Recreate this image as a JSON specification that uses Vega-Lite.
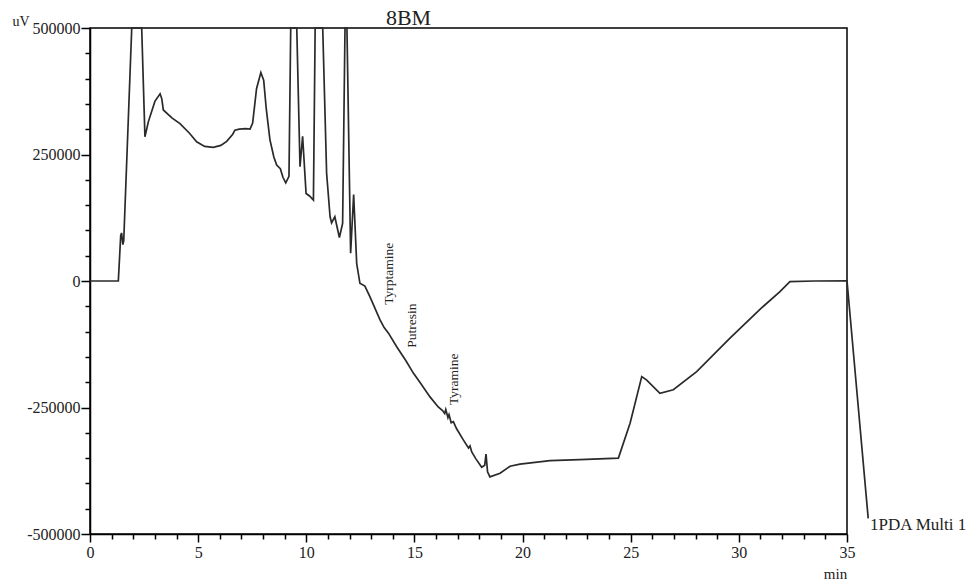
{
  "$schema": "https://vega.github.io/schema/vega-lite/v6.json",
  "width": 757,
  "height": 506,
  "autosize": {"type": "none"},
  "padding": {"left": 90, "top": 28, "right": 129, "bottom": 51},
  "background": "white",
  "config": {
    "view": {"stroke": "black", "strokeWidth": 1.5},
    "font": "Liberation Serif"
  },
  "title": {
    "text": "8BM",
    "anchor": "middle",
    "dx": -60,
    "dy": 38,
    "offset": 5,
    "baseline": "alphabetic",
    "font": "Liberation Serif",
    "fontSize": 22,
    "fontWeight": "normal",
    "color": "#222222"
  },
  "datasets": {
    "signal": [
      {"t": 0, "v": 0},
      {"t": 1.31, "v": 0},
      {"t": 1.42, "v": 90000},
      {"t": 1.46, "v": 95000},
      {"t": 1.52, "v": 72000},
      {"t": 1.56, "v": 80000},
      {"t": 1.93, "v": 500000},
      {"t": 2.39, "v": 500000},
      {"t": 2.54, "v": 285000},
      {"t": 2.7, "v": 315000},
      {"t": 3.0, "v": 355000},
      {"t": 3.24, "v": 370000},
      {"t": 3.32, "v": 360000},
      {"t": 3.39, "v": 338000},
      {"t": 3.8, "v": 322000},
      {"t": 4.16, "v": 311000},
      {"t": 4.6, "v": 292000},
      {"t": 4.93, "v": 275000},
      {"t": 5.3, "v": 266000},
      {"t": 5.7, "v": 264000},
      {"t": 6.05, "v": 268000},
      {"t": 6.32, "v": 276000},
      {"t": 6.6, "v": 290000},
      {"t": 6.7, "v": 298000},
      {"t": 6.9, "v": 300000},
      {"t": 7.2, "v": 301000},
      {"t": 7.4, "v": 300000},
      {"t": 7.52, "v": 312000},
      {"t": 7.7, "v": 380000},
      {"t": 7.9, "v": 412000},
      {"t": 8.03, "v": 397000},
      {"t": 8.15, "v": 340000},
      {"t": 8.32, "v": 279000},
      {"t": 8.5, "v": 245000},
      {"t": 8.63, "v": 229000},
      {"t": 8.8, "v": 222000},
      {"t": 8.92, "v": 205000},
      {"t": 9.05, "v": 194000},
      {"t": 9.2, "v": 207000},
      {"t": 9.28, "v": 500000},
      {"t": 9.56, "v": 500000},
      {"t": 9.71, "v": 226000},
      {"t": 9.83, "v": 286000},
      {"t": 9.99, "v": 173000},
      {"t": 10.15, "v": 168000},
      {"t": 10.33, "v": 160000},
      {"t": 10.41, "v": 500000},
      {"t": 10.76, "v": 500000},
      {"t": 10.94, "v": 213000},
      {"t": 11.1, "v": 127000},
      {"t": 11.17, "v": 115000},
      {"t": 11.32, "v": 127000},
      {"t": 11.53, "v": 86000},
      {"t": 11.68, "v": 114000},
      {"t": 11.79, "v": 500000},
      {"t": 11.88, "v": 500000},
      {"t": 12.05, "v": 55000},
      {"t": 12.19, "v": 171000},
      {"t": 12.33, "v": 35000},
      {"t": 12.48, "v": -4600},
      {"t": 12.71, "v": -10000},
      {"t": 12.94, "v": -31000},
      {"t": 13.41, "v": -77000},
      {"t": 13.6, "v": -92000},
      {"t": 13.8, "v": -103000},
      {"t": 14.18, "v": -130000},
      {"t": 14.6, "v": -157000},
      {"t": 14.95, "v": -182000},
      {"t": 15.3, "v": -203000},
      {"t": 15.72, "v": -229000},
      {"t": 16.1, "v": -249000},
      {"t": 16.3, "v": -256000},
      {"t": 16.4, "v": -262000},
      {"t": 16.45, "v": -254000},
      {"t": 16.55, "v": -270000},
      {"t": 16.6, "v": -264000},
      {"t": 16.7, "v": -280000},
      {"t": 16.8, "v": -278000},
      {"t": 16.95, "v": -292000},
      {"t": 17.26, "v": -314000},
      {"t": 17.5, "v": -330000},
      {"t": 17.57, "v": -326000},
      {"t": 17.65, "v": -338000},
      {"t": 17.85, "v": -352000},
      {"t": 18.11, "v": -368000},
      {"t": 18.25, "v": -364000},
      {"t": 18.31, "v": -342000},
      {"t": 18.38, "v": -377000},
      {"t": 18.49, "v": -387000},
      {"t": 18.96, "v": -380000},
      {"t": 19.42, "v": -366000},
      {"t": 19.88, "v": -362000},
      {"t": 21.27, "v": -355000},
      {"t": 22.65, "v": -353000},
      {"t": 24.43, "v": -350000},
      {"t": 24.97, "v": -281000},
      {"t": 25.51, "v": -189000},
      {"t": 25.74, "v": -196000},
      {"t": 26.35, "v": -222000},
      {"t": 26.97, "v": -215000},
      {"t": 28.05, "v": -179000},
      {"t": 29.59, "v": -113000},
      {"t": 31.0, "v": -55000},
      {"t": 31.9, "v": -21000},
      {"t": 32.36, "v": -1300},
      {"t": 33.5, "v": 0},
      {"t": 35.0, "v": 500},
      {"t": 35.98, "v": -469000}
    ],
    "peaks": [
      {"t": 13.82, "v": -47000, "name": "Tyrptamine"},
      {"t": 14.91, "v": -132000, "name": "Putresin"},
      {"t": 16.83, "v": -245000, "name": "Tyramine"}
    ],
    "channel": [
      {"t": 36.06, "v": -482000, "name": "1PDA Multi 1"}
    ]
  },
  "resolve": {"axis": {"x": "independent", "y": "independent"}},
  "layer": [
    {
      "data": {"name": "signal"},
      "mark": {"type": "line", "color": "#2a2a2a", "strokeWidth": 1.7, "clip": false, "interpolate": "linear"},
      "encoding": {
        "x": {
          "field": "t",
          "type": "quantitative",
          "scale": {"domain": [0, 35], "nice": false, "zero": false},
          "axis": {
            "orient": "bottom",
            "values": [0, 5, 10, 15, 20, 25, 30, 35],
            "format": "d",
            "labelOverlap": false,
            "labelFlush": false,
            "labelFont": "Liberation Serif",
            "labelFontSize": 16,
            "labelColor": "#222222",
            "labelPadding": 2,
            "tickColor": "black",
            "tickWidth": 1.5,
            "tickSize": 8,
            "domainColor": "black",
            "domainWidth": 1.5,
            "grid": false,
            "title": "min",
            "titleFont": "Liberation Serif",
            "titleFontSize": 15,
            "titleFontWeight": "normal",
            "titleColor": "#222222",
            "titleX": 745,
            "titleY": 44,
            "titleAlign": "center",
            "titleBaseline": "alphabetic"
          }
        },
        "y": {
          "field": "v",
          "type": "quantitative",
          "scale": {"domain": [-500000, 500000], "nice": false, "zero": false},
          "axis": {
            "orient": "left",
            "values": [-500000, -250000, 0, 250000, 500000],
            "labelExpr": "'' + datum.value",
            "labelOverlap": false,
            "labelFlush": false,
            "labelFont": "Liberation Serif",
            "labelFontSize": 16,
            "labelColor": "#222222",
            "labelPadding": 1,
            "tickColor": "black",
            "tickWidth": 1.5,
            "tickSize": 9,
            "domainColor": "black",
            "domainWidth": 1.5,
            "grid": false,
            "title": "uV",
            "titleAngle": 0,
            "titleFont": "Liberation Serif",
            "titleFontSize": 14,
            "titleFontWeight": "normal",
            "titleColor": "#222222",
            "titleX": -78,
            "titleY": -3,
            "titleAlign": "left",
            "titleBaseline": "alphabetic"
          }
        }
      }
    },
    {
      "data": {"name": "peaks"},
      "mark": {"type": "text", "angle": 270, "align": "left", "baseline": "middle", "font": "Liberation Serif", "fontSize": 13.5, "color": "#222222"},
      "encoding": {
        "x": {
          "field": "t",
          "type": "quantitative",
          "axis": {
            "orient": "bottom",
            "values": [1,2,3,4,6,7,8,9,11,12,13,14,16,17,18,19,21,22,23,24,26,27,28,29,31,32,33,34],
            "labels": false,
            "domain": false,
            "grid": false,
            "tickColor": "black",
            "tickWidth": 1.5,
            "tickSize": 5,
            "title": null
          }
        },
        "y": {
          "field": "v",
          "type": "quantitative",
          "axis": {
            "orient": "left",
            "values": [-450000,-400000,-350000,-300000,-200000,-150000,-100000,-50000,50000,100000,150000,200000,300000,350000,400000,450000],
            "labels": false,
            "domain": false,
            "grid": false,
            "tickColor": "black",
            "tickWidth": 1.5,
            "tickSize": 5,
            "title": null
          }
        },
        "text": {"field": "name"}
      }
    },
    {
      "data": {"name": "channel"},
      "mark": {"type": "text", "align": "left", "baseline": "middle", "font": "Liberation Serif", "fontSize": 17, "color": "#222222", "clip": false},
      "encoding": {
        "x": {"field": "t", "type": "quantitative", "axis": null},
        "y": {"field": "v", "type": "quantitative", "axis": null},
        "text": {"field": "name"}
      }
    }
  ]
}
